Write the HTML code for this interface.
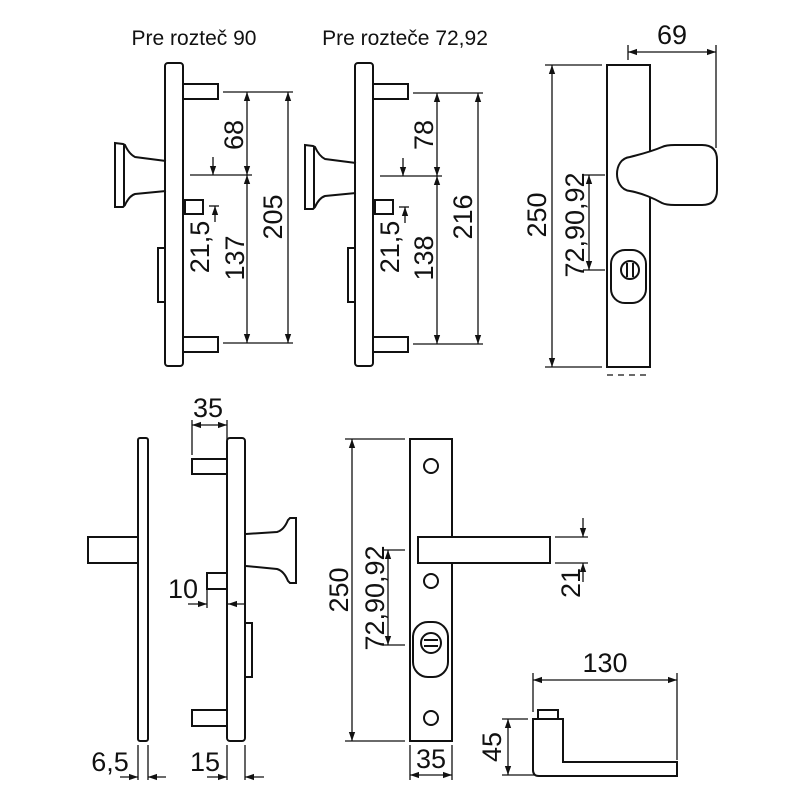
<!DOCTYPE html>
<html><head><meta charset="utf-8"><style>
html,body{margin:0;padding:0;background:#fff;}
svg{display:block}
text{font-family:"Liberation Sans",Arial,sans-serif;fill:#111}
</style></head><body>
<svg width="800" height="800" viewBox="0 0 800 800" xmlns="http://www.w3.org/2000/svg">
<defs>
<marker id="a" viewBox="0 0 10 10" refX="10" refY="5" markerWidth="9" markerHeight="9" markerUnits="userSpaceOnUse" orient="auto-start-reverse"><path d="M0,1.5 L10,5 L0,8.5z" fill="#111"/></marker>
</defs>
<g fill="none" stroke="#111" stroke-width="2">
<!-- Top-left figure -->
<rect x="165" y="63" width="18" height="303" rx="3"/>
<rect x="183" y="84" width="35" height="15"/>
<rect x="183" y="337" width="35" height="15"/>
<rect x="185" y="200" width="18" height="14"/>
<rect x="158" y="248" width="7" height="54"/>
<path d="M166,161 L135,157 Q129,154 125,145 L123,144 L115,143 L115,207 L123,207 L125,205 Q129,196 135,194 L166,191"/>
<line x1="124" y1="144" x2="124" y2="206"/>
<!-- Top-middle figure -->
<rect x="355" y="63" width="18" height="303" rx="3"/>
<rect x="373" y="84" width="35" height="15"/>
<rect x="373" y="337" width="35" height="15"/>
<rect x="375" y="200" width="18" height="14"/>
<rect x="348" y="248" width="7" height="54"/>
<path d="M356,163 L325,159 Q319,156 315,147 L313,146 L305,145 L305,209 L313,209 L315,207 Q319,198 325,196 L356,193"/>
<line x1="314" y1="146" x2="314" y2="208"/>
<g stroke-width="1.3">
<line x1="223" y1="92" x2="293" y2="92"/><line x1="190" y1="175" x2="252" y2="175"/><line x1="223" y1="343" x2="293" y2="343"/>
<line x1="247" y1="92" x2="247" y2="175" marker-start="url(#a)" marker-end="url(#a)"/>
<line x1="247" y1="175" x2="247" y2="343" marker-start="url(#a)" marker-end="url(#a)"/>
<line x1="288" y1="92" x2="288" y2="343" marker-start="url(#a)" marker-end="url(#a)"/>
<line x1="213" y1="157" x2="213" y2="175" marker-end="url(#a)"/>
<line x1="215" y1="222" x2="215" y2="206" marker-end="url(#a)"/><line x1="209" y1="206" x2="219" y2="206"/>
<line x1="413" y1="93" x2="483" y2="93"/><line x1="380" y1="176" x2="442" y2="176"/><line x1="413" y1="344" x2="483" y2="344"/>
<line x1="437" y1="93" x2="437" y2="176" marker-start="url(#a)" marker-end="url(#a)"/>
<line x1="437" y1="176" x2="437" y2="344" marker-start="url(#a)" marker-end="url(#a)"/>
<line x1="478" y1="93" x2="478" y2="344" marker-start="url(#a)" marker-end="url(#a)"/>
<line x1="403" y1="158" x2="403" y2="176" marker-end="url(#a)"/>
<line x1="405" y1="223" x2="405" y2="207" marker-end="url(#a)"/><line x1="399" y1="207" x2="409" y2="207"/>
</g>
<!-- Top-right figure -->
<rect x="607" y="65" width="43" height="302"/>
<path d="M630,157 C642,154 655,150 662,147 Q666,145 675,145 L702,145 Q717,145 717,160 L717,190 Q717,205 702,205 L675,205 Q666,205 662,203 C655,199 642,193 630,191 C620,190 617,180 617,174 C617,166 621,158 630,157 Z" fill="#fff"/>
<rect x="611" y="250" width="35" height="53" rx="14"/>
<circle cx="630" cy="270" r="9"/><line x1="627" y1="263" x2="627" y2="277"/><line x1="633" y1="263" x2="633" y2="277"/>
<g stroke-width="1.3">
<line x1="628" y1="45" x2="628" y2="60"/><line x1="716" y1="45" x2="716" y2="148"/>
<line x1="628" y1="52" x2="716" y2="52" marker-start="url(#a)" marker-end="url(#a)"/>
<line x1="545" y1="65" x2="602" y2="65"/><line x1="545" y1="367" x2="602" y2="367"/>
<line x1="552" y1="65" x2="552" y2="367" marker-start="url(#a)" marker-end="url(#a)"/>
<line x1="583" y1="175" x2="605" y2="175"/><line x1="583" y1="270" x2="605" y2="270"/>
<line x1="589" y1="175" x2="589" y2="270" marker-start="url(#a)" marker-end="url(#a)"/>
<line x1="607" y1="375" x2="650" y2="375" stroke-dasharray="6,5"/>
</g>
<!-- Bottom-left figures -->
<rect x="138" y="438" width="10" height="303" rx="2"/>
<rect x="88" y="537" width="50" height="26"/>
<rect x="227" y="438" width="18" height="303" rx="3"/>
<rect x="192" y="459" width="35" height="15"/>
<rect x="192" y="710" width="35" height="16"/>
<rect x="207" y="573" width="20" height="16"/>
<rect x="245" y="623" width="7" height="54"/>
<path d="M246,534 L277,532 Q284,530 288,520 L290,518 L296,518 L296,583 L290,583 L288,581 Q284,571 277,569 L246,566"/>
<g stroke-width="1.3">
<line x1="192" y1="420" x2="192" y2="455"/><line x1="227" y1="420" x2="227" y2="440"/>
<line x1="192" y1="425" x2="227" y2="425" marker-start="url(#a)" marker-end="url(#a)"/>
<line x1="207" y1="589" x2="207" y2="608"/>
<line x1="188" y1="604" x2="207" y2="604" marker-end="url(#a)"/>
<line x1="245" y1="604" x2="228" y2="604" marker-end="url(#a)"/>
<line x1="138" y1="745" x2="138" y2="780"/><line x1="148" y1="745" x2="148" y2="780"/>
<line x1="120" y1="777" x2="138" y2="777" marker-end="url(#a)"/><line x1="166" y1="777" x2="148" y2="777" marker-end="url(#a)"/>
<line x1="227" y1="745" x2="227" y2="780"/><line x1="245" y1="745" x2="245" y2="780"/>
<line x1="207" y1="777" x2="227" y2="777" marker-end="url(#a)"/><line x1="264" y1="777" x2="245" y2="777" marker-end="url(#a)"/>
</g>
<!-- Bottom-right plate -->
<rect x="410" y="439" width="42" height="302"/>
<circle cx="431" cy="466" r="7"/><circle cx="431" cy="581" r="7"/><circle cx="431" cy="718" r="7"/>
<rect x="418" y="537" width="132" height="26" fill="#fff"/>
<rect x="413" y="622" width="35" height="55" rx="15"/>
<circle cx="431" cy="643" r="10"/><line x1="424" y1="640" x2="438" y2="640"/><line x1="424" y1="646" x2="438" y2="646"/>
<g stroke-width="1.3">
<line x1="345" y1="439" x2="405" y2="439"/><line x1="345" y1="741" x2="405" y2="741"/>
<line x1="352" y1="439" x2="352" y2="741" marker-start="url(#a)" marker-end="url(#a)"/>
<line x1="382" y1="550" x2="405" y2="550"/><line x1="382" y1="645" x2="405" y2="645"/>
<line x1="388" y1="550" x2="388" y2="645" marker-start="url(#a)" marker-end="url(#a)"/>
<line x1="410" y1="745" x2="410" y2="780"/><line x1="452" y1="745" x2="452" y2="780"/>
<line x1="410" y1="775" x2="452" y2="775" marker-start="url(#a)" marker-end="url(#a)"/>
<line x1="555" y1="537" x2="588" y2="537"/><line x1="555" y1="563" x2="588" y2="563"/>
<line x1="583" y1="518" x2="583" y2="537" marker-end="url(#a)"/><line x1="583" y1="582" x2="583" y2="563" marker-end="url(#a)"/>
<line x1="533" y1="673" x2="533" y2="712"/><line x1="677" y1="673" x2="677" y2="760"/>
<line x1="533" y1="680" x2="677" y2="680" marker-start="url(#a)" marker-end="url(#a)"/>
<line x1="502" y1="719" x2="528" y2="719"/><line x1="502" y1="775" x2="535" y2="775"/>
<line x1="508" y1="719" x2="508" y2="775" marker-start="url(#a)" marker-end="url(#a)"/>
</g>
<rect x="538" y="710" width="20" height="9"/>
<path d="M533,719 L563,719 L563,762 L677,762 L677,776 L539,776 Q533,776 533,770 Z"/>
</g>
<!-- Text -->
<g font-size="21">
<text x="194" y="45" text-anchor="middle">Pre rozteč 90</text>
<text x="405" y="45" text-anchor="middle">Pre rozteče 72,92</text>
</g>
<g font-size="27" text-anchor="middle" dominant-baseline="central">
<text transform="translate(234,135) rotate(-90)">68</text>
<text transform="translate(235,258) rotate(-90)">137</text>
<text transform="translate(200,247) rotate(-90)">21,5</text>
<text transform="translate(273,217) rotate(-90)">205</text>
<text transform="translate(424,135) rotate(-90)">78</text>
<text transform="translate(424,258) rotate(-90)">138</text>
<text transform="translate(390,247) rotate(-90)">21,5</text>
<text transform="translate(463,217) rotate(-90)">216</text>
<text x="672" y="35">69</text>
<text transform="translate(537,215) rotate(-90)">250</text>
<text transform="translate(575,225) rotate(-90)">72,90,92</text>
<text x="208" y="408">35</text>
<text x="183" y="589">10</text>
<text x="110" y="762">6,5</text>
<text x="205" y="762">15</text>
<text transform="translate(339,590) rotate(-90)">250</text>
<text transform="translate(375,598) rotate(-90)">72,90,92</text>
<text x="431" y="759">35</text>
<text transform="translate(571,583) rotate(-90)">21</text>
<text x="605" y="663">130</text>
<text transform="translate(492,747) rotate(-90)">45</text>
</g>
</svg>
</body></html>
